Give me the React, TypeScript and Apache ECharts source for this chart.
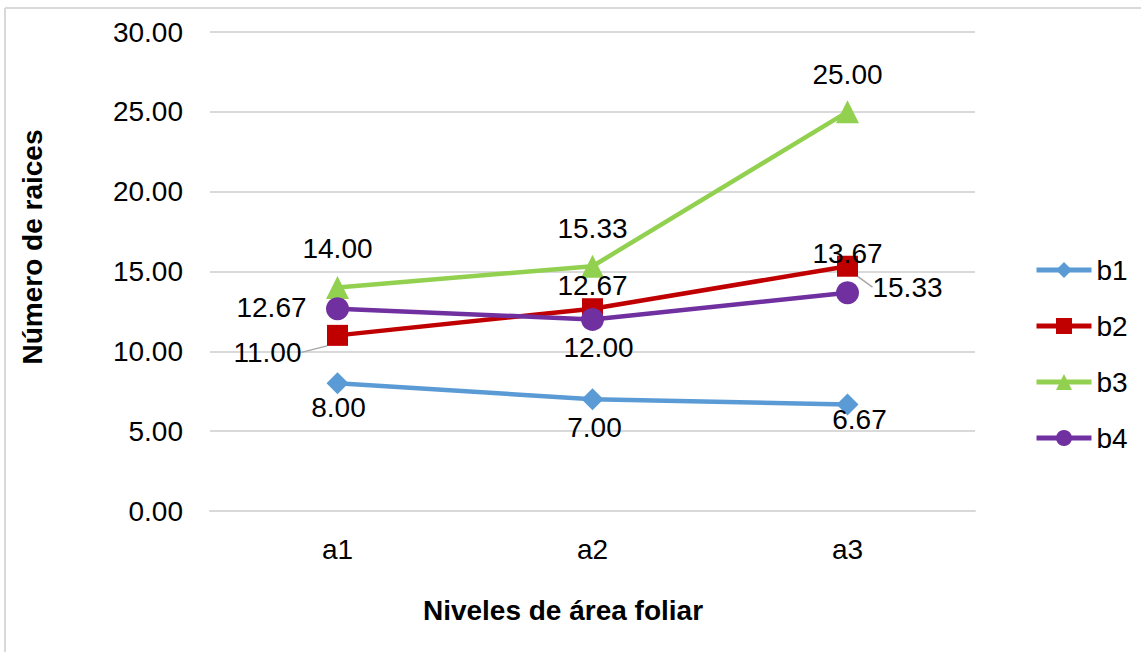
import React, { useEffect, useRef } from "react";
import * as echarts from "echarts";

const categories = ["a1", "a2", "a3"];
const b1 = [8.0, 7.0, 6.67];
const b2 = [11.0, 12.67, 15.33];
const b3 = [14.0, 15.33, 25.0];
const b4 = [12.67, 12.0, 13.67];

// label offsets from the point (centre of label minus point), in px
const labelShift: number[][][] = [
  [[1, 24], [2, 28], [12, 15]],
  [[-70, 17], [0, -23], [60, 21]],
  [[0, -39], [0, -38], [0, -37]],
  [[-66, -1], [6, 28], [0, -39]],
];

const FONT = "Liberation Sans, Arial, sans-serif";
const FS = 28;

const App: React.FC = () => {
  const chartRef = useRef<HTMLDivElement>(null);

  useEffect(() => {
    document.body.style.margin = "0";
    const chart = echarts.init(chartRef.current, null, { renderer: "svg" });

    const mk = (name: string, data: number[], color: string, symbol: string, size: number, guide: boolean) => ({
      name,
      type: "line",
      data,
      symbol,
      symbolSize: size,
      itemStyle: { color },
      lineStyle: { color, width: 4.5 },
      label: {
        show: true,
        position: "inside",
        color: "#000",
        fontSize: FS,
        fontFamily: FONT,
        formatter: (p: any) => Number(p.value).toFixed(2),
      },
      labelLine: { show: guide, lineStyle: { color: "#a6a6a6", width: 1.5 } },
    });

    chart.setOption({
      animation: false,
      textStyle: { fontFamily: FONT },
      grid: { left: 210, right: 166, top: 32, bottom: 141 },
      legend: {
        orient: "vertical",
        left: 1029,
        top: 251,
        itemWidth: 55,
        itemHeight: 20,
        itemGap: 28,
        itemTextGap: 4,
        lineStyle: { width: 5 },
        textStyle: { fontSize: FS, color: "#000", fontFamily: FONT },
        data: ["b1", "b2", "b3", "b4"],
      },
      xAxis: {
        type: "category",
        data: categories,
        boundaryGap: true,
        axisLine: { lineStyle: { color: "#d9d9d9", width: 2 } },
        axisTick: { show: false },
        axisLabel: { fontSize: FS, color: "#000", margin: 24, fontFamily: FONT },
      },
      yAxis: {
        type: "value",
        min: 0,
        max: 30,
        interval: 5,
        axisLine: { show: false },
        axisTick: { show: false },
        splitLine: { lineStyle: { color: "#d9d9d9", width: 2 } },
        axisLabel: {
          fontSize: FS,
          color: "#000",
          margin: 27,
          fontFamily: FONT,
          formatter: (v: number) => v.toFixed(2),
        },
      },
      labelLayout: (p: any) => {
        const s = labelShift[p.seriesIndex][p.dataIndex];
        return { dx: s[0], dy: s[1] };
      },
      series: [
        mk("b1", b1, "#5B9BD5", "diamond", 22, false),
        mk("b2", b2, "#C00000", "rect", 21, true),
        mk("b3", b3, "#92D050", "triangle", 23, false),
        mk("b4", b4, "#7030A0", "circle", 23, false),
      ],
      graphic: [
        { type: "line", shape: { x1: 5, y1: 8, x2: 5, y2: 652 }, style: { stroke: "#d9d9d9", lineWidth: 2 } },
        { type: "line", shape: { x1: 5, y1: 8, x2: 1141, y2: 8 }, style: { stroke: "#d9d9d9", lineWidth: 2 } },
        {
          type: "text",
          x: 32,
          y: 247,
          rotation: Math.PI / 2,
          style: {
            text: "Número de raices",
            fontSize: FS,
            fontWeight: "bold",
            fontFamily: FONT,
            fill: "#000",
            textAlign: "center",
            textVerticalAlign: "middle",
          },
        },
        {
          type: "text",
          x: 563,
          y: 610,
          style: {
            text: "Niveles de área foliar",
            fontSize: FS,
            fontWeight: "bold",
            fontFamily: FONT,
            fill: "#000",
            textAlign: "center",
            textVerticalAlign: "middle",
          },
        },
      ],
    });

    return () => {
      chart.dispose();
    };
  }, []);

  return <div ref={chartRef} style={{ width: 1141, height: 652 }}></div>;
};

export default App;
